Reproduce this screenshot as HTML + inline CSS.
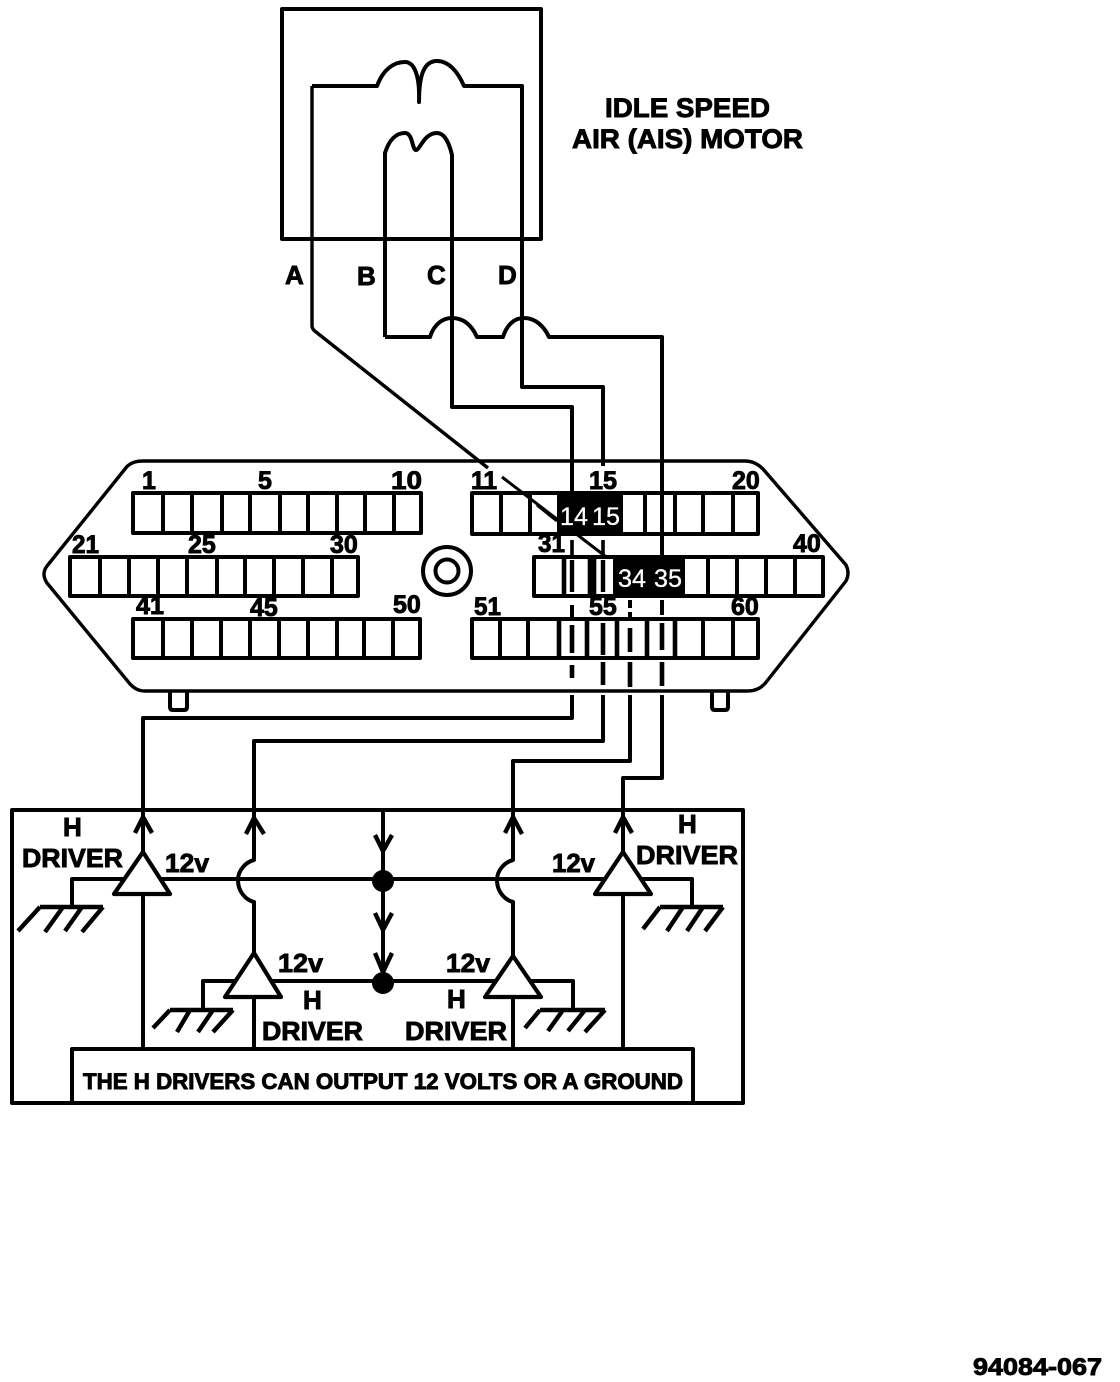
<!DOCTYPE html>
<html><head><meta charset="utf-8"><style>
html,body{margin:0;padding:0;background:#fff}
svg{display:block}
text{font-family:"Liberation Sans",sans-serif;font-weight:bold;fill:#000;stroke:#000;stroke-width:.9}
.w{fill:#fff;stroke:#fff;stroke-width:.3;font-weight:normal}
path,rect,circle{stroke-linejoin:round}
</style></head><body>
<svg xmlns="http://www.w3.org/2000/svg" width="1120" height="1382" viewBox="0 0 1120 1382">
<rect width="1120" height="1382" fill="#fff"/>
<g fill="none" stroke="#000" stroke-width="4">
<!-- motor -->
<rect x="282" y="9" width="259" height="230"/>
<path d="M312 86H377C383 70 393 62 405 62C414 62 420 75 419 102C419 75 424 61 437 61C449 61 458 72 464 86H522V387H603V466"/>
<path d="M312 86V326Q312 329 316 332L488 468" stroke-width="3.4"/>
<path d="M502 477L605 556" stroke-width="3"/>
<path d="M385 337V153C389 140 396 133 405 133C413 133 412 150 416 150C420 150 424 133 437 133C444 133 449 142 452 155V407H572V493"/>
<path d="M385 337H430C434 324 443 318 452 318C464 318 472 326 477 337H503C507 324 515 318 524 318C535 318 544 326 549 337H662V557"/>
<!-- connector outline -->
<path d="M143 461H745C752 461 758 464 763 469L846 565Q850 573 846 581L767 681C762 688 755 691 748 691H145C138 691 134 688 130 684L47 583Q41 574 47 566L125 469C129 463 135 461 143 461Z" stroke-width="3.4"/>
<path d="M170 692V707Q170 710 173 710H184Q187 710 187 707V692M712 692V707Q712 710 715 710H725Q728 710 728 707V692" stroke-width="4"/>
<!-- pin rows -->
<path d="M133 493H421V533H133ZM163 493V533M192 493V533M222 493V533M250 493V533M280 493V533M308 493V533M337 493V533M365 493V533M394 493V533"/>
<path d="M70 557H358V596H70ZM100 557V596M129 557V596M158 557V596M187 557V596M217 557V596M245 557V596M274 557V596M303 557V596M332 557V596"/>
<path d="M133 619H420V658H133ZM163 619V658M192 619V658M221 619V658M250 619V658M279 619V658M308 619V658M337 619V658M364 619V658M393 619V658"/>
<path d="M472 493H758V534H472ZM501 493V534M530 493V534M645 493V534M675 493V534M703 493V534M733 493V534"/>
<path d="M534 557H823V596H534ZM708 557V596M737 557V596M766 557V596M795 557V596"/>
<path d="M472 619H758V658H472ZM500 619V658M528 619V658M703 619V658M733 619V658"/>
<g stroke-width="4.6">
<path d="M564 557V596M590 557V596M594 557V596M559 619V658M587 619V658M617 619V658M647 619V658M675 619V658"/>
</g>
<rect x="557" y="493" width="66" height="41" fill="#000" stroke="none"/>
<rect x="613" y="557" width="72" height="39" fill="#000" stroke="none"/>
<path d="M537 505L557 521" stroke-width="3"/>
<path d="M572 540V555M603 540V555" stroke-width="3.6"/>
<path d="M572 560V592M603 560V592" stroke-width="4.4"/>
<path d="M572 605V618M630 600V608M630 612V619M662 600V615" stroke-width="4"/>
<path d="M572 625V653M603 623V655M630 628V652M662 623V650M572 665V678M603 662V685M630 662V687M662 662V686" stroke-width="4.6"/>
<circle cx="447" cy="571" r="24" stroke-width="4"/>
<circle cx="447" cy="571" r="11.5" stroke-width="4"/>
<!-- wires down -->
<path d="M572 695V718H143V852"/>
<path d="M603 695V741H254V860C246 862 238 870 238 880C238 892 246 900 254 902V952"/>
<path d="M630 695V761H513V860C505 862 497 870 497 880C497 892 505 900 513 902V955"/>
<path d="M662 695V778H623V852"/>
<!-- driver box -->
<rect x="12" y="810" width="731" height="293"/>
<rect x="72" y="1049" width="621" height="54"/>
<path d="M72 907V879H692V907M203 1010V981H573V1010M383 810V983M143 894V1049M254 997V1049M513 997V1049M623 894V1049"/>
<path d="M40 907H103M40 907L18 931M63 907L45 932M82 907L65 931M103 907L82 932" stroke-width="4.4"/>
<path d="M660 907H723M660 907L643 929M683 907L667 931M703 907L687 931M723 907L705 931" stroke-width="4.4"/>
<path d="M170 1010H233M170 1010L153 1028M190 1010L177 1032M213 1010L198 1032M233 1010L213 1032" stroke-width="4.4"/>
<path d="M540 1010H605M540 1010L525 1028M563 1010L548 1031M585 1010L568 1031M605 1010L585 1032" stroke-width="4.4"/>
<!-- triangles -->
<path d="M143 852L170 894H114Z" fill="#fff" stroke-width="4.2"/>
<path d="M623 852L651 894H595Z" fill="#fff" stroke-width="4.2"/>
<path d="M254 953L281 997H225Z" fill="#fff" stroke-width="4.2"/>
<path d="M513 956L541 997H485Z" fill="#fff" stroke-width="4.2"/>
<!-- up arrows -->
<path d="M135 833L143 817L152 833M246 834L254 818L264 834M505 833L513 817L522 834M615 833L623 817L632 833" stroke-width="4.4"/>
<!-- down arrows -->
<path d="M375 835L383 851L392 835M375 913L383 930L392 913M375 953L383 972L392 953" stroke-width="4.4"/>
</g>
<circle cx="383" cy="881" r="11" fill="#000"/>
<circle cx="383" cy="983" r="11" fill="#000"/>

<text x="605" y="117" font-size="27" textLength="165" lengthAdjust="spacingAndGlyphs">IDLE SPEED</text>
<text x="572" y="148" font-size="27" textLength="231" lengthAdjust="spacingAndGlyphs">AIR (AIS) MOTOR</text>
<g font-size="26">
<text x="285" y="284">A</text><text x="357" y="285">B</text><text x="427" y="284">C</text><text x="498" y="284">D</text>
</g>
<g font-size="25">
<text x="142" y="489">1</text><text x="258" y="489">5</text><text x="391" y="489" textLength="31" lengthAdjust="spacingAndGlyphs">10</text>
<text x="72" y="553" textLength="27" lengthAdjust="spacingAndGlyphs">21</text><text x="188" y="553">25</text><text x="330" y="553">30</text>
<text x="136" y="614" textLength="28" lengthAdjust="spacingAndGlyphs">41</text><text x="250" y="616">45</text><text x="393" y="613">50</text>
<text x="471" y="489" textLength="26" lengthAdjust="spacingAndGlyphs">11</text><text x="589" y="489" textLength="28" lengthAdjust="spacingAndGlyphs">15</text><text x="732" y="489">20</text>
<text x="538" y="552" textLength="27" lengthAdjust="spacingAndGlyphs">31</text><text x="793" y="552">40</text>
<text x="474" y="615" textLength="27" lengthAdjust="spacingAndGlyphs">51</text><text x="589" y="615">55</text><text x="731" y="615">60</text>
</g>
<g font-size="25">
<text class="w" x="560" y="525" textLength="28" lengthAdjust="spacingAndGlyphs">14</text><text class="w" x="592" y="525" textLength="28" lengthAdjust="spacingAndGlyphs">15</text>
<text class="w" x="618" y="587" textLength="28" lengthAdjust="spacingAndGlyphs">34</text><text class="w" x="654" y="587" textLength="28" lengthAdjust="spacingAndGlyphs">35</text>
</g>
<g font-size="26">
<text x="63" y="836">H</text><text x="22" y="867" textLength="101" lengthAdjust="spacingAndGlyphs">DRIVER</text><text x="165" y="872" textLength="44" lengthAdjust="spacingAndGlyphs">12v</text>
<text x="303" y="1009">H</text><text x="262" y="1040" textLength="101" lengthAdjust="spacingAndGlyphs">DRIVER</text><text x="278" y="972" textLength="45" lengthAdjust="spacingAndGlyphs">12v</text>
<text x="447" y="1008">H</text><text x="405" y="1040" textLength="102" lengthAdjust="spacingAndGlyphs">DRIVER</text><text x="446" y="972" textLength="44" lengthAdjust="spacingAndGlyphs">12v</text>
<text x="678" y="833">H</text><text x="636" y="864" textLength="102" lengthAdjust="spacingAndGlyphs">DRIVER</text><text x="552" y="872" textLength="43" lengthAdjust="spacingAndGlyphs">12v</text>
</g>
<text x="83" y="1089" font-size="22" textLength="600" lengthAdjust="spacingAndGlyphs">THE H DRIVERS CAN OUTPUT 12 VOLTS OR A GROUND</text>
<text x="973" y="1375" font-size="24" textLength="129" lengthAdjust="spacingAndGlyphs">94084-067</text>
</svg>
</body></html>
